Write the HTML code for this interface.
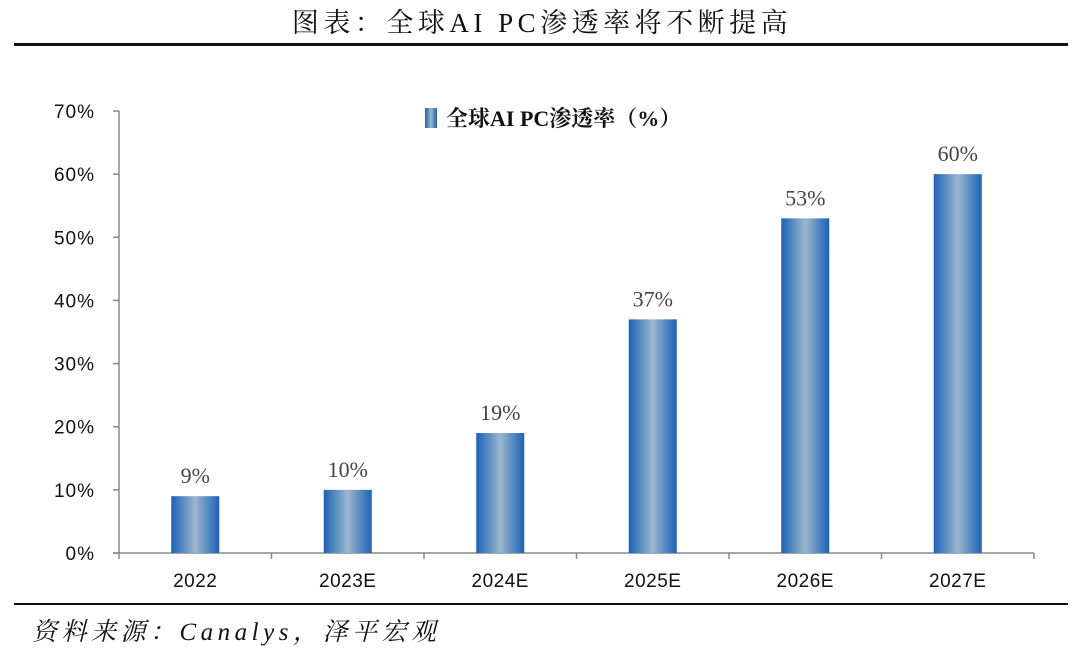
<!DOCTYPE html>
<html><head><meta charset="utf-8"><style>
body{margin:0;background:#fff;width:1080px;height:658px;overflow:hidden}
</style></head><body>
<svg width="1080" height="658" xmlns="http://www.w3.org/2000/svg">
<defs><linearGradient id="bg" x1="0" x2="1" y1="0" y2="0">
<stop offset="0" stop-color="#1a62b8"/><stop offset="0.5" stop-color="#9bb7cc"/><stop offset="1" stop-color="#1a62b8"/></linearGradient></defs>
<text x="542" y="32" text-anchor="middle" letter-spacing="4.5" font-family="Liberation Serif, Noto Serif CJK SC, serif" font-size="27" fill="#111">图表：全球AI PC渗透率将不断提高</text>
<rect x="14" y="43" width="1054" height="3" fill="#111"/>
<rect x="14" y="603" width="1054" height="2" fill="#111"/>
<text x="32" y="640" letter-spacing="4.5" font-family="Liberation Serif, Noto Serif CJK SC, serif" font-style="italic" font-size="25" fill="#111">资料来源：Canalys，泽平宏观</text>
<g>
<rect x="425" y="108" width="12" height="20" fill="url(#bg)"/>
<text x="446" y="126" font-family="Liberation Serif, Noto Serif CJK SC, serif" font-weight="bold" font-size="22" fill="#111">全球AI PC渗透率（%）</text>
</g>
<g id="plot"></g>
</svg>
<script>
const categories=["2022","2023E","2024E","2025E","2026E","2027E"];
const values=[9,10,19,37,53,60];
const yTicks=[0,10,20,30,40,50,60,70];
const x0=119,x1=1034,yBase=553,yTop=111,yMax=70;
const y=v=>yBase-(yBase-yTop)*v/yMax;
const band=(x1-x0)/categories.length;
const xc=i=>x0+band*(i+0.5);
const g=document.getElementById('plot');
const NS='http://www.w3.org/2000/svg';
function mk(t,a){const e=document.createElementNS(NS,t);for(const k in a)e.setAttribute(k,a[k]);g.appendChild(e);return e;}
let ax=mk('line',{x1:x0,x2:x0,y1:yTop,y2:yBase,stroke:'#888','stroke-width':1.5});


let xa=mk('line',{x1:x0-6,x2:x1,y1:yBase,y2:yBase,stroke:'#888','stroke-width':1.5});


yTicks.forEach(t=>{
 const l=mk('line',{x1:x0-6,x2:x0,y1:y(t),y2:y(t),stroke:'#888','stroke-width':1.5});
 
 
 const tx=mk('text',{x:95,y:y(t)+7,'text-anchor':'end','letter-spacing':1,'font-family':'Liberation Sans, sans-serif','font-size':19,fill:'#111'});
 tx.textContent=t+'%';
 
 
});
for(let i=0;i<=categories.length;i++){
 const l=mk('line',{x1:x0+band*i,x2:x0+band*i,y1:yBase,y2:yBase+6,stroke:'#888','stroke-width':1.5});
 
 
}
categories.forEach((c,i)=>{
 const bw=48;
 const r=mk('rect',{x:xc(i)-bw/2,y:y(values[i]),width:bw,height:yBase-y(values[i]),fill:'url(#bg)'});
 
 
 const v=mk('text',{x:xc(i),y:y(values[i])-13,'text-anchor':'middle','font-family':'Liberation Serif, serif','font-size':22,fill:'#444'});
 v.textContent=values[i]+'%';
 
 
 const t=mk('text',{x:xc(i),y:587,'text-anchor':'middle','letter-spacing':0.5,'font-family':'Liberation Sans, sans-serif','font-size':19,fill:'#111'});
 t.textContent=c;
 
 
});
</script>
</body></html>
